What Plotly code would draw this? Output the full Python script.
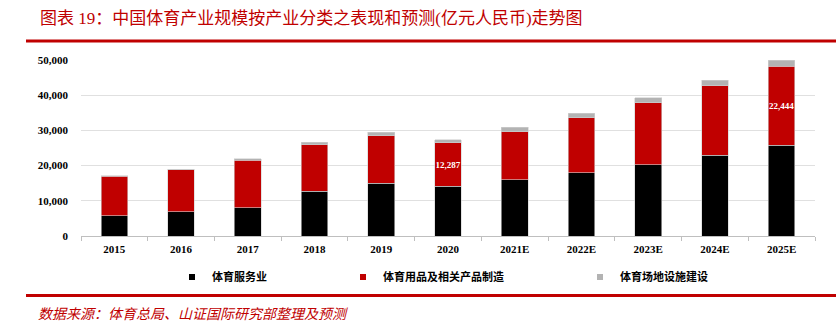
import plotly.graph_objects as go

categories = ['2015', '2016', '2017', '2018', '2019', '2020',
              '2021E', '2022E', '2023E', '2024E', '2025E']
services = [5713, 6827, 8000, 12732, 14929, 14136, 16000, 18000, 20250, 22900, 25750]
manufacturing = [11238, 11962, 13509, 13201, 13614, 12287, 13600, 15600, 17600, 19800, 22444]
construction = [156, 222, 479, 646, 940, 949, 1300, 1250, 1400, 1600, 1800]
labelled_years = ['2020', '2025E']

series_names = ['体育服务业', '体育用品及相关产品制造', '体育场地设施建设']
colors = ['#000000', '#c00000', '#b3b3b3']
y_ticks = [0, 10000, 20000, 30000, 40000, 50000]

title_text = '图表 19：中国体育产业规模按产业分类之表现和预测(亿元人民币)走势图'
source_text = '数据来源：体育总局、山证国际研究部整理及预测'

W, H = 836, 324
L, R, T, B = 81, 21, 60, 88
pw, ph = W - L - R, H - T - B


def px(x):
    return (x - L) / pw


def py(y):
    return (H - B - y) / ph


latin_cjk = 'Liberation Serif, Noto Sans CJK SC, serif'
red = '#c00000'

fig = go.Figure()
manu_text = [f'{v:,}' if c in labelled_years else '' for c, v in zip(categories, manufacturing)]
for vals, name, col, txt in [(services, series_names[0], colors[0], None),
                             (manufacturing, series_names[1], colors[1], manu_text),
                             (construction, series_names[2], colors[2], None)]:
    fig.add_trace(go.Bar(
        x=categories, y=vals, name=name, marker_color=col,
        marker_line=dict(width=0.6, color='#d0d0d0'),
        text=txt, textposition='inside' if txt else None,
        insidetextanchor='middle', textangle=0, constraintext='none',
        textfont=dict(family='Liberation Serif', size=9, color='white', weight='bold'),
        showlegend=False, hoverinfo='skip'))

legend_ids = ['legend', 'legend2', 'legend3']
text_x = [212, 383, 620]
for name, col, lid in zip(series_names, colors, legend_ids):
    fig.add_trace(go.Scatter(
        x=[None], y=[None], mode='markers', name=name, legend=lid,
        marker=dict(symbol='square', size=6, color=col), showlegend=True))

legend_common = dict(orientation='h', yanchor='middle', y=py(277), xanchor='left',
                     bgcolor='rgba(0,0,0,0)', borderwidth=0,
                     font=dict(family='Noto Sans CJK SC', size=11, color='#000', weight='bold'),
                     itemwidth=30)
layout_legends = {}
for lid, tx in zip(legend_ids, text_x):
    layout_legends[lid] = dict(legend_common, x=px(tx - 40))

fig.update_layout(
    width=W, height=H,
    margin=dict(l=L, r=R, t=T, b=B, pad=0),
    paper_bgcolor='white', plot_bgcolor='white',
    barmode='stack', bargap=0.6,
    font=dict(family=latin_cjk, color='#000'),
    xaxis=dict(type='category', showline=True, linecolor='#bfbfbf', linewidth=1,
               ticks='outside', tickson='boundaries', ticklen=4, tickcolor='#bfbfbf',
               ticklabelstandoff=3,
               tickfont=dict(family='Liberation Serif', size=11, color='#000', weight='bold'),
               showgrid=False, fixedrange=True),
    yaxis=dict(range=[0, 50000], tickvals=y_ticks, tickformat=',d',
               showgrid=True, gridcolor='#e0e0e0', gridwidth=1, zeroline=False,
               showline=False, ticks='', ticklabelstandoff=12,
               tickfont=dict(family='Liberation Serif', size=11, color='#000', weight='bold'),
               fixedrange=True),
    **layout_legends,
    shapes=[
        dict(type='line', xref='paper', yref='paper', x0=px(26), x1=px(836),
             y0=py(41), y1=py(41), line=dict(color=red, width=3)),
        dict(type='line', xref='paper', yref='paper', x0=px(26), x1=px(836),
             y0=py(295.5), y1=py(295.5), line=dict(color=red, width=3)),
    ],
    annotations=[
        dict(text=title_text, xref='paper', yref='paper', x=px(38), y=py(18),
             xanchor='left', yanchor='middle', showarrow=False,
             font=dict(family=latin_cjk, size=17, color=red)),
        dict(text='<i>' + source_text + '</i>', xref='paper', yref='paper', x=px(36), y=py(314),
             xanchor='left', yanchor='middle', showarrow=False,
             font=dict(family=latin_cjk, size=14, color=red)),
    ],
)

fig.write_html('out.html', config={'displayModeBar': False})
